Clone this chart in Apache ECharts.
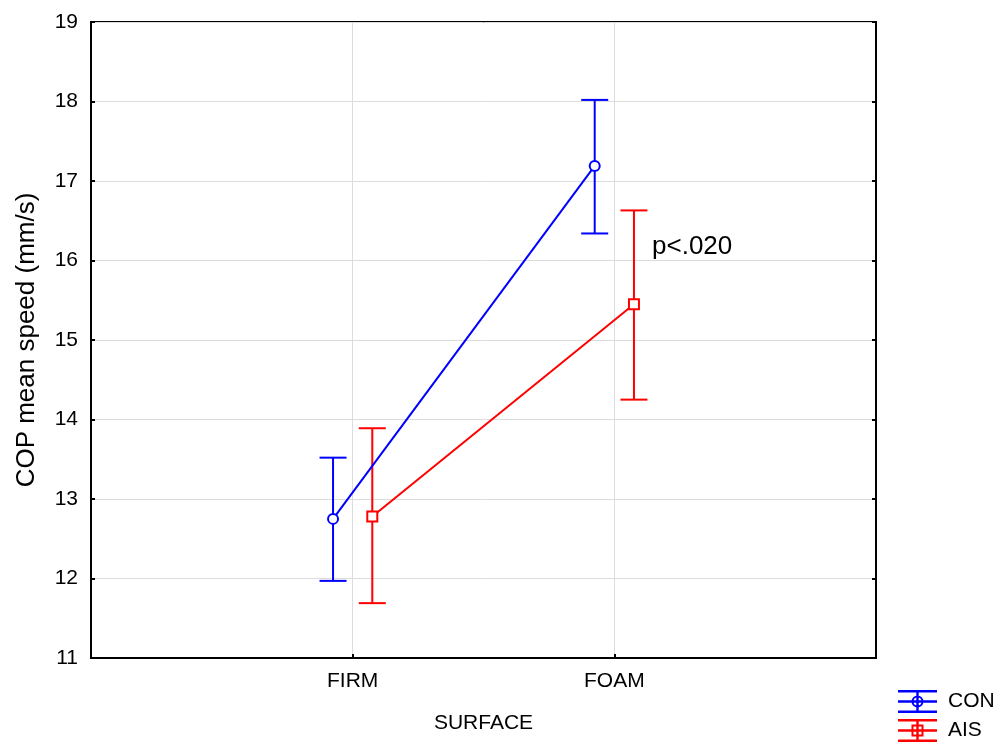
<!DOCTYPE html>
<html>
<head>
<meta charset="utf-8">
<script src="https://cdn.jsdelivr.net/npm/echarts@6/dist/echarts.min.js"></script>
<style>html,body{margin:0;padding:0;background:#fff}#c{width:1005px;height:743px}</style>
</head>
<body>
<div id="c"></div>
<script>
var categories = ['FIRM', 'FOAM'];
var conMean = [12.75, 17.19];
var conLow = [11.97, 16.34];
var conHigh = [13.52, 18.02];
var aisMean = [12.78, 15.45];
var aisLow = [11.69, 14.25];
var aisHigh = [13.89, 16.63];
var yTicks = [11, 12, 13, 14, 15, 16, 17, 18, 19];
var annotation = { text: 'p<.020', x: 2.144, y: 16.17 };
var groupOffset = 0.075;

var FONT = 'Liberation Sans, Arial, sans-serif';
var BLUE = '#0000ff', RED = '#ff0000';

function pts(means, off) {
  return means.map(function (m, i) { return [i + 1 + off, m]; });
}
function bars(lows, highs, off) {
  return lows.map(function (l, i) { return [i + 1 + off, l, highs[i]]; });
}
function errRender(color) {
  return function (params, api) {
    var x = api.value(0);
    var lo = api.coord([x, api.value(1)]);
    var hi = api.coord([x, api.value(2)]);
    var hw = 13.5;
    var st = { stroke: color, lineWidth: 2 };
    return {
      type: 'group',
      children: [
        { type: 'line', shape: { x1: lo[0], y1: lo[1], x2: hi[0], y2: hi[1] }, style: st },
        { type: 'line', shape: { x1: lo[0] - hw, y1: lo[1], x2: lo[0] + hw, y2: lo[1] }, style: st },
        { type: 'line', shape: { x1: hi[0] - hw, y1: hi[1], x2: hi[0] + hw, y2: hi[1] }, style: st }
      ]
    };
  };
}

var barsPath = 'M0 0H39V2.4H0Z M0 10.3H39V12.7H0Z M0 20.6H39V23H0Z M18.3 0H20.7V23H18.3Z ';
var conIcon = 'path://' + barsPath +
  'M25.5 11.5A6 6 0 1 1 13.5 11.5A6 6 0 1 1 25.5 11.5Z M23.5 11.5A4 4 0 1 0 15.5 11.5A4 4 0 1 0 23.5 11.5Z';
var aisIcon = 'path://' + barsPath +
  'M13.5 5.5H25.5V17.5H13.5Z M15.5 7.5V15.5H23.5V7.5Z';

function legendAt(name, icon, color, top) {
  return {
    orient: 'vertical', left: 898, top: top, padding: 0, itemWidth: 39, itemHeight: 23, itemGap: 6,
    textStyle: { fontSize: 21, color: '#000', fontFamily: FONT, padding: [0, 0, 0, 6] },
    data: [{ name: name, icon: icon, itemStyle: { color: color } }]
  };
}

var chart = echarts.init(document.getElementById('c'), null, { renderer: 'canvas' });
var option = {
  backgroundColor: '#fff',
  animation: false,
  textStyle: { fontFamily: FONT },
  grid: { left: 91, right: 129, top: 22, bottom: 85, show: true, borderColor: '#000', borderWidth: 2, backgroundColor: 'transparent' },
  legend: [legendAt('CON', conIcon, BLUE, 690), legendAt('AIS', aisIcon, RED, 719)],
  xAxis: [{
    type: 'value', min: 0, max: 3, interval: 1,
    name: 'SURFACE', nameLocation: 'middle', nameGap: 55,
    nameTextStyle: { fontSize: 21, color: '#000', fontFamily: FONT },
    axisLine: { show: true, lineStyle: { color: '#000', width: 2 } },
    axisTick: { show: true, inside: true, length: 4, lineStyle: { color: '#000', width: 2 } },
    axisLabel: { fontSize: 21, color: '#000', margin: 13, fontFamily: FONT,
      formatter: function (v) { return categories[v - 1] || ''; } },
    splitLine: { show: true, lineStyle: { color: '#dcdcdc', width: 1 } }
  }],
  yAxis: [{
    type: 'value', min: 11, max: 19, interval: 1,
    name: 'COP mean speed (mm/s)', nameLocation: 'middle', nameGap: 51,
    nameTextStyle: { fontSize: 26, color: '#000', fontFamily: FONT },
    axisLine: { show: true, lineStyle: { color: '#000', width: 2 } },
    axisTick: { show: true, inside: true, length: 4, lineStyle: { color: '#000', width: 2 } },
    axisLabel: { fontSize: 21, color: '#000', margin: 13, fontFamily: FONT,
      formatter: function (v) { return yTicks.indexOf(v) >= 0 ? String(v) : ''; } },
    splitLine: { show: true, lineStyle: { color: '#dcdcdc', width: 1 } }
  }, {
    type: 'value', min: 11, max: 19, interval: 1, position: 'right',
    axisLine: { show: true, lineStyle: { color: '#000', width: 2 } },
    axisTick: { show: true, inside: true, length: 4, lineStyle: { color: '#000', width: 2 } },
    axisLabel: { show: false }, splitLine: { show: false }
  }],
  series: [
    { name: 'CON', type: 'custom', renderItem: errRender(BLUE), data: bars(conLow, conHigh, -groupOffset), z: 3, itemStyle: { color: BLUE } },
    { name: 'AIS', type: 'custom', renderItem: errRender(RED), data: bars(aisLow, aisHigh, groupOffset), z: 3, itemStyle: { color: RED } },
    { name: 'CON', type: 'line', data: pts(conMean, -groupOffset), symbol: 'circle', symbolSize: 10, showAllSymbol: true,
      lineStyle: { color: BLUE, width: 2 }, itemStyle: { color: '#fff', borderColor: BLUE, borderWidth: 2 }, z: 4 },
    { name: 'AIS', type: 'line', data: pts(aisMean, groupOffset), symbol: 'rect', symbolSize: 10, showAllSymbol: true,
      lineStyle: { color: RED, width: 2 }, itemStyle: { color: '#fff', borderColor: RED, borderWidth: 2 }, z: 4 }
  ]
};
chart.setOption(option);
var p = chart.convertToPixel({ xAxisIndex: 0, yAxisIndex: 0 }, [annotation.x, annotation.y]);
chart.setOption({
  graphic: [{ type: 'text', x: p[0], y: p[1], style: { text: annotation.text, fontSize: 26, fontFamily: FONT, fill: '#000', align: 'left', verticalAlign: 'middle' } }]
});
</script>
</body>
</html>
